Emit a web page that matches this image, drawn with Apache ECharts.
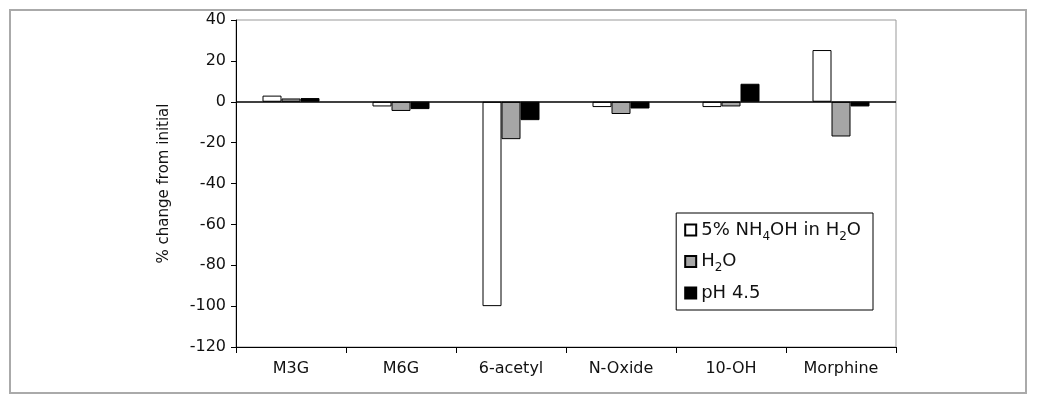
<!DOCTYPE html>
<html><head><meta charset="utf-8">
<script src="https://cdn.jsdelivr.net/npm/echarts@6/dist/echarts.min.js"></script>
<style>html,body{margin:0;background:#fff}#c{width:1038px;height:406px}
#f{position:absolute;left:9px;top:9px;width:1018px;height:385px;border:2px solid #aaa;box-sizing:border-box;pointer-events:none}</style>
</head><body><div id="c"></div><div id="f"></div>
<script>
const categories = ['M3G','M6G','6-acetyl','N-Oxide','10-OH','Morphine'];
const nh4oh = [3, -2.3, -100, -2.6, -2.6, 25.3];
const water = [1.6, -4.5, -18.3, -6, -2.3, -17];
const ph45 = [1.8, -3.6, -9, -3.3, 8.8, -2.3];
const yTicks = {min: -120, max: 40, interval: 20};
const names = ['nh','w','ph'];
const font = '"DejaVu Sans", sans-serif';
const chart = echarts.init(document.getElementById('c'));
const rich = {t:{fontSize:18,fontFamily:font,color:'#111'}, s:{fontSize:12,fontFamily:font,color:'#111',padding:[13,0,0,0]}};
const label = {nh:'{t|5% NH}{s|4}{t|OH in H}{s|2}{t|O}', w:'{t|H}{s|2}{t|O}', ph:'{t|pH 4.5}'};
const mk = (n, data, color) => ({name:n, type:'bar', data, barWidth:19, barGap:'0%',
  itemStyle:{color, borderColor:'#000', borderWidth:1}});
const s = [mk('nh', nh4oh, '#fff'), mk('w', water, '#a6a6a6'), mk('ph', ph45, '#000')];
s[0].markLine = {silent:true, symbol:'none', label:{show:false}, lineStyle:{color:'#000',width:1.5,type:'solid'}, data:[{yAxis:0}]};
chart.setOption({
  animation:false,
  grid:{left:236, right:142, top:20, bottom:59, show:true, borderColor:'#999', borderWidth:1},
  legend:{right:165, top:213, orient:'vertical', icon:'rect', itemWidth:11, itemHeight:11, itemGap:10, padding:[8,12,8,8],
    borderColor:'#000', borderWidth:1, data:names, formatter:n=>label[n], textStyle:{rich}},
  xAxis:{type:'category', data:categories, axisLine:{onZero:false, lineStyle:{color:'#000'}},
    axisTick:{show:true, length:6, lineStyle:{color:'#000'}}, axisLabel:{fontSize:16, fontFamily:font, color:'#111', margin:14}},
  yAxis:{type:'value', ...yTicks, name:'% change from initial', nameLocation:'middle', nameGap:64, nameRotate:90,
    nameTextStyle:{fontSize:15, fontFamily:font, color:'#111'},
    axisLine:{show:true, lineStyle:{color:'#000'}}, axisTick:{show:true, length:5, lineStyle:{color:'#000'}},
    splitLine:{show:false}, axisLabel:{fontSize:16, fontFamily:font, color:'#111', margin:10}},
  series:s
});
</script></body></html>
